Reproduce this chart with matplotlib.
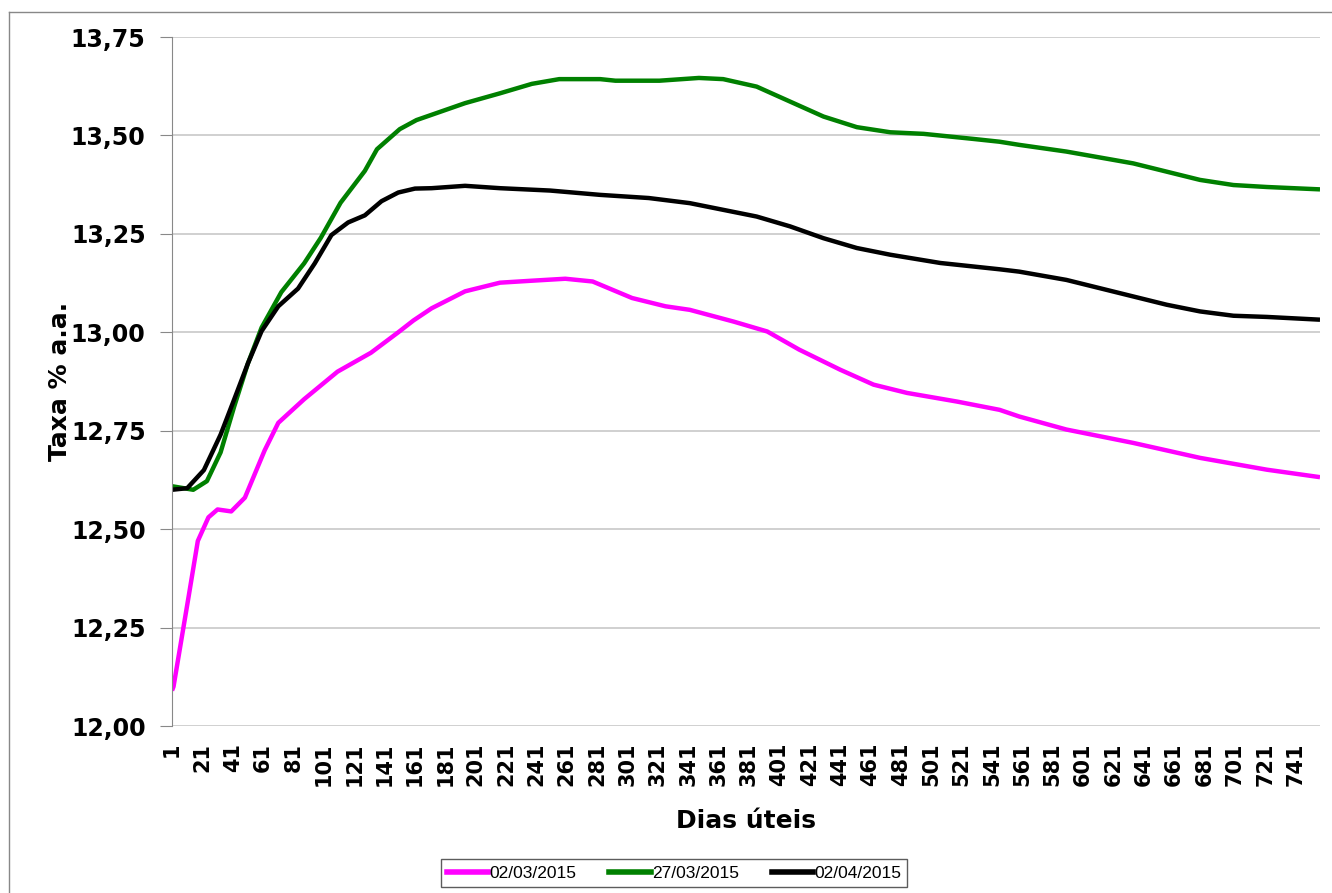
import numpy as np
import matplotlib.pyplot as plt
from matplotlib.ticker import FuncFormatter
from matplotlib.lines import Line2D

# curvas de juros (dias uteis x taxa % a.a.)
dias_0203 = [1, 2, 12, 18, 25, 31, 40, 49, 62, 71, 88, 110, 132, 150, 160, 172, 194, 217, 238,
             260, 278, 304, 326, 342, 371, 393, 414, 441, 463, 485, 518, 546, 559, 590, 634,
             678, 722, 757]
taxa_0203 = [12.09, 12.10, 12.33, 12.47, 12.53, 12.55, 12.545, 12.58, 12.70, 12.77, 12.83, 12.90,
             12.948, 13.00, 13.03, 13.061, 13.104, 13.126, 13.131, 13.136, 13.129, 13.087,
             13.066, 13.057, 13.027, 13.002, 12.956, 12.905, 12.867, 12.846, 12.824, 12.803,
             12.786, 12.753, 12.719, 12.681, 12.651, 12.632]

dias_2703 = [1, 15, 24, 33, 42, 51, 60, 73, 88, 99, 112, 128, 136, 151, 162, 194, 217, 238, 256,
             283, 293, 322, 348, 364, 386, 408, 430, 452, 474, 496, 529, 546, 559, 590, 634, 656,
             678, 700, 722, 757]
taxa_2703 = [12.609, 12.60, 12.622, 12.695, 12.812, 12.921, 13.012, 13.102, 13.175, 13.24, 13.329,
             13.41, 13.465, 13.516, 13.539, 13.582, 13.607, 13.631, 13.643, 13.643, 13.639,
             13.639, 13.646, 13.643, 13.624, 13.586, 13.548, 13.521, 13.508, 13.504, 13.491,
             13.484, 13.476, 13.459, 13.429, 13.408, 13.387, 13.374, 13.369, 13.363]

dias_0204 = [1, 11, 22, 33, 42, 51, 60, 71, 84, 95, 106, 117, 128, 139, 150, 161, 172, 194, 217,
             250, 283, 315, 342, 364, 386, 408, 430, 452, 474, 507, 546, 559, 590, 634, 656, 678,
             700, 722, 757]
taxa_0204 = [12.60, 12.604, 12.65, 12.74, 12.83, 12.921, 13.003, 13.066, 13.111, 13.175, 13.247,
             13.279, 13.297, 13.333, 13.355, 13.365, 13.366, 13.372, 13.366, 13.36, 13.349,
             13.341, 13.328, 13.311, 13.294, 13.269, 13.239, 13.214, 13.197, 13.176, 13.16,
             13.154, 13.133, 13.091, 13.07, 13.053, 13.042, 13.039, 13.032]

series = ['02/03/2015', '27/03/2015', '02/04/2015']
cores = ['#ff00ff', '#008000', '#000000']
xticks = list(range(1, 742, 20))
yticks = [12.00, 12.25, 12.50, 12.75, 13.00, 13.25, 13.50, 13.75]

fig = plt.figure(figsize=(13.32, 8.93), dpi=100)
ax = fig.add_axes([172/1332, 1-726/893, (1320-172)/1332, (726-37)/893])

for d, t, c in zip([dias_0203, dias_2703, dias_0204], [taxa_0203, taxa_2703, taxa_0204], cores):
    ax.plot(d, t, color=c, lw=3.2, solid_capstyle='butt', solid_joinstyle='round')

ax.set_xlim(1, 757)
ax.set_ylim(12.0, 13.75)
ax.set_yticks(yticks)
ax.set_xticks(xticks)
ax.yaxis.set_major_formatter(FuncFormatter(lambda v, p: f'{v:.2f}'.replace('.', ',')))
ax.tick_params(axis='y', length=9, color='#888888', labelsize=17, pad=10)
ax.tick_params(axis='x', length=0, labelsize=15, rotation=90, pad=12)
for lab in ax.get_xticklabels() + ax.get_yticklabels():
    lab.set_fontweight('bold')
ax.grid(axis='y', color='#c8c8c8', lw=1.2)
ax.set_axisbelow(True)
for s in ['top', 'right', 'bottom']:
    ax.spines[s].set_visible(False)
ax.spines['left'].set_color('#888888')

ax.set_ylabel('Taxa % a.a.', fontsize=18, fontweight='bold', labelpad=-1)
ax.set_xlabel('Dias úteis', fontsize=18, fontweight='bold', labelpad=16)

handles = [Line2D([0], [0], color=c, lw=4) for c in cores]
leg = fig.legend(handles, series, loc='center', bbox_to_anchor=(674/1332, 1-873/893),
                 ncol=3, frameon=True, fancybox=False, handlelength=2.4, handletextpad=0.05,
                 columnspacing=1.9, borderpad=0.35, borderaxespad=0,
                 prop={'family': 'Liberation Sans', 'size': 12.5})
leg.get_frame().set_edgecolor('#333333')
leg.get_frame().set_linewidth(1.0)

# moldura externa (so topo e esquerda aparecem)
fig.add_artist(Line2D([9/1332, 1], [1-12/893, 1-12/893], transform=fig.transFigure,
                      color='#888888', lw=1))
fig.add_artist(Line2D([9/1332, 9/1332], [0, 1-12/893], transform=fig.transFigure,
                      color='#888888', lw=1))

fig.savefig('out.png', dpi=100)
